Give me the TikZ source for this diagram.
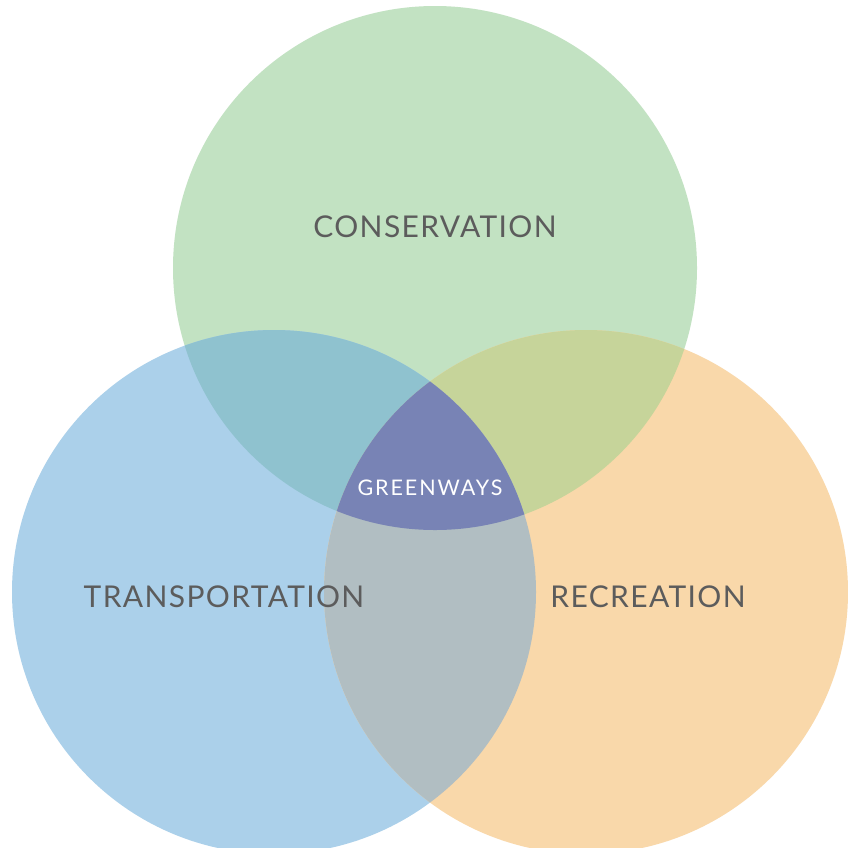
\documentclass[tikz,border=0pt]{standalone}
\usepackage{fontspec}
\setmainfont{Lato}
\newfontfamily\lblfont[LetterSpace=4.5]{Lato}
\newfontfamily\clblfont[LetterSpace=9]{Lato}
\definecolor{cgreen}{HTML}{C2E2C2}
\definecolor{cblue}{HTML}{ABD0EA}
\definecolor{corange}{HTML}{F9D8AA}
\definecolor{cgb}{HTML}{8FC2CF}
\definecolor{cgo}{HTML}{C6D49A}
\definecolor{cbo}{HTML}{B1BEC2}
\definecolor{cgbo}{HTML}{7883B5}
\definecolor{ctext}{HTML}{5C5C5C}
\begin{document}
\begin{tikzpicture}[x=1pt,y=-1pt,
  lbl/.style={text=ctext,font=\lblfont\fontsize{30}{31}\selectfont,inner sep=0pt},
  clbl/.style={text=white,font=\clblfont\fontsize{21.5}{22}\selectfont,inner sep=0pt}]
\useasboundingbox (0,0) rectangle (848,847);
\fill[white] (0,0) rectangle (848,847);
\coordinate (G) at (435,268);
\coordinate (B) at (274,592);
\coordinate (O) at (586,592);
\def\R{262pt}
\fill[cgreen] (G) circle[radius=\R];
\fill[cblue] (B) circle[radius=\R];
\fill[corange] (O) circle[radius=\R];
\begin{scope}
  \clip (G) circle[radius=\R];
  \fill[cgb] (B) circle[radius=\R];
  \fill[cgo] (O) circle[radius=\R];
\end{scope}
\begin{scope}
  \clip (B) circle[radius=\R];
  \fill[cbo] (O) circle[radius=\R];
  \clip (O) circle[radius=\R];
  \fill[cgbo] (G) circle[radius=\R];
\end{scope}
\node[lbl] (cons) at (435,227) {CONSERVATION};
\node[lbl] (trans) at (224,597) {TRANSPORTATION};
\node[lbl] (rec) at (648,597) {RECREATION};
\node[clbl] (green) at (430,488) {GREENWAYS};
\end{tikzpicture}
\end{document}
